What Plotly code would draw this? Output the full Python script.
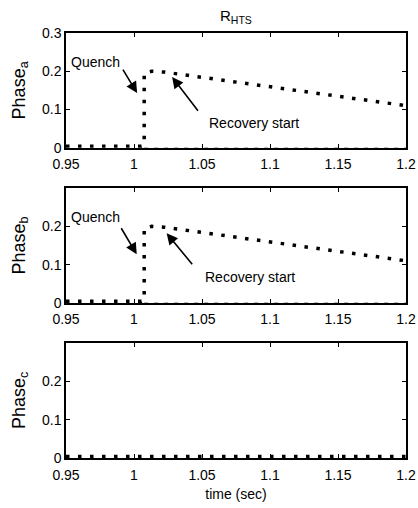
import plotly.graph_objects as go
from plotly.subplots import make_subplots

# Data
t_ab = [0.95, 1.0055, 1.0075, 1.0075, 1.013, 1.022, 1.2]
phase_a = [0.004, 0.004, 0.008, 0.195, 0.2, 0.198, 0.11]
phase_b = [0.004, 0.004, 0.008, 0.195, 0.2, 0.198, 0.11]
t_c = [0.95, 1.2]
phase_c = [0.004, 0.004]
t_zero = [1.0075, 1.2]
zero_line = [0.0, 0.0]

xticks = [0.95, 1.0, 1.05, 1.1, 1.15, 1.2]
xticktext = ["0.95", "1", "1.05", "1.1", "1.15", "1.2"]
yticks_a = [0, 0.1, 0.2, 0.3]
yticks_bc = [0, 0.1, 0.2]
ylabels = ["Phase<sub>a</sub>", "Phase<sub>b</sub>", "Phase<sub>c</sub>"]

FONT = "Liberation Sans, Arial, sans-serif"

fig = make_subplots(rows=3, cols=1, vertical_spacing=0.0)

series = [(t_ab, phase_a), (t_ab, phase_b), (t_c, phase_c)]
for i, (tx, ty) in enumerate(series, start=1):
    if i < 3:
        fig.add_trace(go.Scatter(x=t_zero, y=zero_line, mode="lines",
                                 line=dict(color="#888", width=1, dash="4px,6px"),
                                 showlegend=False, hoverinfo="skip"), row=i, col=1)
    fig.add_trace(go.Scatter(x=tx, y=ty, mode="lines",
                             line=dict(color="black", width=3.5, dash="3.5px,8.5px"),
                             showlegend=False), row=i, col=1)

domains = [[0.730, 1.0], [0.365, 0.635], [0.0, 0.271]]
for i in range(1, 4):
    xa = "xaxis" if i == 1 else f"xaxis{i}"
    ya = "yaxis" if i == 1 else f"yaxis{i}"
    fig.layout[xa].update(range=[0.95, 1.2], tickvals=xticks, ticktext=xticktext,
                          ticks="inside", ticklen=4, tickcolor="black", mirror="ticks",
                          showline=True, linecolor="black", linewidth=1.5,
                          showgrid=False, zeroline=False, ticklabelstandoff=3,
                          automargin=False,
                          tickfont=dict(family=FONT, size=14, color="black"))
    fig.layout[ya].update(range=[0, 0.3], domain=domains[i - 1],
                          tickvals=yticks_a if i == 1 else yticks_bc,
                          ticks="inside", ticklen=4, tickcolor="black", mirror="ticks",
                          showline=True, linecolor="black", linewidth=1.5,
                          showgrid=False, zeroline=False, automargin=False,
                          tickfont=dict(family=FONT, size=14, color="black"),
                          title=dict(text=ylabels[i - 1], standoff=12,
                                     font=dict(family=FONT, size=18, color="black")))

fig.layout.xaxis3.title = dict(text="time (sec)", standoff=8,
                               font=dict(family=FONT, size=14, color="black"))

# Annotations
ann = [
    # panel a
    dict(xref="x", yref="y", x=1.0023, y=0.143, ax=0.9912, ay=0.208, axref="x", ayref="y"),
    dict(xref="x", yref="y", x=1.028, y=0.185, ax=1.0479, ay=0.093, axref="x", ayref="y"),
    # panel b
    dict(xref="x2", yref="y2", x=1.002, y=0.127, ax=0.990, ay=0.199, axref="x2", ayref="y2"),
    dict(xref="x2", yref="y2", x=1.024, y=0.182, ax=1.0437, ay=0.097, axref="x2", ayref="y2"),
]
for a in ann:
    fig.add_annotation(text="", showarrow=True, arrowhead=2, arrowsize=1.4,
                       arrowwidth=1.6, arrowcolor="black", standoff=0, **a)

texts = [
    ("x", "y", 0.9715, 0.224, "Quench"),
    ("x", "y", 1.088, 0.064, "Recovery start"),
    ("x2", "y2", 0.9718, 0.225, "Quench"),
    ("x2", "y2", 1.0854, 0.068, "Recovery start"),
]
for xr, yr, x, y, t in texts:
    fig.add_annotation(xref=xr, yref=yr, x=x, y=y, text=t, showarrow=False,
                       font=dict(family=FONT, size=14, color="black"))

fig.add_annotation(xref="paper", yref="paper", x=0.5, y=1.0, yshift=5,
                   xanchor="center", yanchor="bottom", showarrow=False,
                   text="R<sub>HTS</sub>",
                   font=dict(family=FONT, size=15, color="black"))

fig.update_layout(width=418, height=508,
                  margin=dict(l=66, r=12, t=33, b=50),
                  paper_bgcolor="white", plot_bgcolor="white")

fig.write_html("out.html")
